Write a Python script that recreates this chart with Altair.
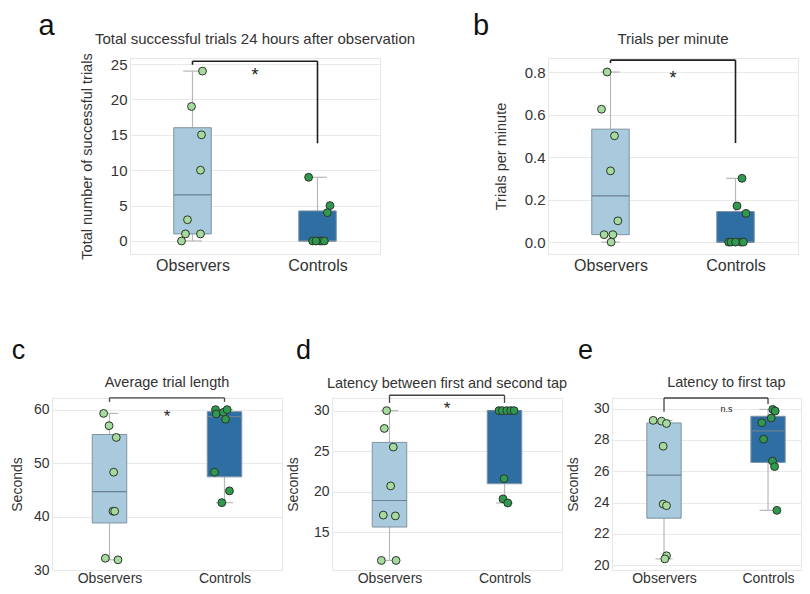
import altair as alt
import pandas as pd
import numpy as np

# ---- data ----
a_obs = [24, 19, 15, 10, 3, 1, 1, 0]
a_obs_jit = [0.08, -0.008, 0.072, 0.064, -0.04, -0.056, 0.064, -0.088]
a_ctl = [9, 5, 4, 0, 0, 0, 0, 0]
a_ctl_jit = [-0.071, 0.1, 0.079, -0.039, 0.02, 0.036, 0.055, -0.012]

b_obs = [0.8, 0.625, 0.5, 0.335, 0.1, 0.035, 0.035, 0.0]
b_obs_jit = [-0.027, -0.072, 0.032, 0.0, 0.059, -0.051, 0.019, 0.005]
b_ctl = [0.3, 0.17, 0.135, 0, 0, 0, 0, 0]
b_ctl_jit = [0.052, 0.012, 0.084, -0.055, -0.036, 0.044, 0.063, 0.0]

c_obs = [59.3, 57, 54.8, 48.3, 41, 41, 32.2, 31.9]
c_obs_jit = [-0.051, -0.004, 0.059, 0.036, 0.03, 0.045, -0.036, 0.074]
c_ctl = [60, 59.2, 59.5, 60, 58.2, 48.3, 44.8, 42.6]
c_ctl_jit = [-0.078, -0.072, -0.009, 0.023, 0.009, -0.087, 0.043, -0.023]

d_obs = [30, 27.8, 25.5, 20.7, 17.1, 17, 11.5, 11.5]
d_obs_jit = [-0.025, -0.045, 0.033, 0.01, -0.054, 0.051, -0.071, 0.057]
d_ctl = [30, 30, 30, 30, 30, 21.6, 19.1, 18.6]
d_ctl_jit = [-0.048, -0.019, 0.019, 0.054, 0.083, -0.004, -0.013, 0.028]

e_obs = [29.25, 29.2, 29.05, 27.6, 23.9, 23.8, 20.6, 20.4]
e_obs_jit = [-0.104, -0.024, 0.024, -0.008, -0.008, 0.024, 0.024, 0.008]
e_ctl = [29.95, 29.85, 29.4, 29.1, 28.05, 26.65, 26.3, 23.5]
e_ctl_jit = [0.046, 0.069, 0.031, -0.06, -0.043, 0.043, 0.063, 0.085]

BOX_FILL = ["#a9c9dc", "#2f6ea3"]
PT_FILL = ["#a6da9e", "#2f9a4f"]
FONT = "Liberation Sans"


def panel(letter, title, ytitle, obs, oj, ctl, cj, ydom, yticks, yfmt,
          bracket, sig, sig_y, width, height, xmax, P):
    xs = alt.Scale(domain=[-0.5, xmax], nice=False, zero=False)
    ys = alt.Scale(domain=ydom, nice=False, zero=False)
    xaxis = alt.Axis(values=[0, 1], labelExpr="datum.value == 0 ? 'Observers' : 'Controls'",
                     grid=False, labelFontSize=P["xlab"], labelPadding=P["xpad"], title=None)
    yaxis = alt.Axis(values=yticks, format=yfmt, labelFontSize=P["ylab"], labelPadding=3,
                     titleFontSize=P["ytit"], titlePadding=P["tpad"], titleFontWeight="normal",
                     title=ytitle)

    def X(f):
        return alt.X(f, type="quantitative", scale=xs, axis=xaxis)

    def Y(f):
        return alt.Y(f, type="quantitative", scale=ys, axis=yaxis)

    hw = P["hw"]
    rows = []
    for g, vals in enumerate([obs, ctl]):
        v = np.array(vals, dtype=float)
        q1, med, q3 = np.percentile(v, [25, 50, 75])
        iqr = q3 - q1
        lo = v[v >= q1 - 1.5 * iqr].min()
        hi = v[v <= q3 + 1.5 * iqr].max()
        rows.append(dict(g=g, bl=g - hw, br=g + hw, cl=g - hw / 2, cr=g + hw / 2,
                         q1=q1, med=med, q3=q3, lo=lo, hi=hi, fill=BOX_FILL[g]))
    box_df = pd.DataFrame(rows)

    pts = []
    for g, (vals, jit) in enumerate([(obs, oj), (ctl, cj)]):
        for v, j in zip(vals, jit):
            pts.append(dict(x=g + j, v=v, fill=PT_FILL[g]))
    pts_df = pd.DataFrame(pts)

    base = alt.Chart(box_df)
    wcol = "#b8b8b8"
    w_lo = base.mark_rule(color=wcol, strokeWidth=1.2).encode(x=X("g"), y=Y("lo"), y2="q1")
    w_hi = base.mark_rule(color=wcol, strokeWidth=1.2).encode(x=X("g"), y=Y("q3"), y2="hi")
    c_lo = base.mark_rule(color=wcol, strokeWidth=1.2).encode(x=X("cl"), x2="cr", y=Y("lo"))
    c_hi = base.mark_rule(color=wcol, strokeWidth=1.2).encode(x=X("cl"), x2="cr", y=Y("hi"))
    box = base.mark_rect(stroke="#7f93a3", strokeWidth=1).encode(
        x=X("bl"), x2="br", y=Y("q1"), y2="q3", fill=alt.Fill("fill:N", scale=None))
    med = base.mark_rule(color="#6a8192", strokeWidth=1.2).encode(x=X("bl"), x2="br", y=Y("med"))
    points = alt.Chart(pts_df).mark_point(filled=True, size=62, stroke="#2a352a",
                                          strokeWidth=1, opacity=1).encode(
        x=X("x"), y=Y("v"), fill=alt.Fill("fill:N", scale=None))

    top, leg0, leg1 = bracket
    br_df = pd.DataFrame(dict(x=[0, 0, 1], x2=[1, 0, 1], y=[top, leg0, leg1], y2=[top, top, top]))
    br = alt.Chart(br_df).mark_rule(color=P["brc"], strokeWidth=P["brw"]).encode(
        x=X("x"), x2="x2", y=Y("y"), y2="y2")

    sig_df = pd.DataFrame(dict(x=[P["tx"]], y=[sig_y], t=[sig]))
    sigt = alt.Chart(sig_df).mark_text(font=FONT, fontSize=P["sigfs"], color="#222",
                                       baseline="middle").encode(x=X("x"), y=Y("y"), text="t:N")

    t_df = pd.DataFrame(dict(x=[P["tx"]], t=[title]))
    tt = alt.Chart(t_df).mark_text(font=FONT, fontSize=P["tfs"], color="#333",
                                   baseline="middle").encode(
        x=X("x"), y=alt.value(P["tdy"]), text="t:N")

    l_df = pd.DataFrame(dict(t=[letter]))
    lt = alt.Chart(l_df).mark_text(font=FONT, fontSize=P["lfs"], color="#111",
                                   baseline="alphabetic").encode(
        x=alt.value(P["ldx"]), y=alt.value(P["ldy"]), text="t:N")

    return alt.layer(w_lo, w_hi, c_lo, c_hi, box, med, br, points, sigt, tt, lt).properties(
        width=width, height=height)


def spacer(w, h):
    return alt.Chart(pd.DataFrame(dict(v=[0]))).mark_point(opacity=0).encode(
        x=alt.X("v:Q", axis=None), y=alt.Y("v:Q", axis=None)).properties(
        width=w, height=h, view=alt.ViewBackground(strokeOpacity=0))


TOP = dict(xlab=16, xpad=3, ylab=15, ytit=14.5, tpad=16, hw=0.15, brc="#1e1e1e", brw=1.6,
           sigfs=18, tfs=15, tdy=-19, lfs=29, ldy=-23, tx=0.5)
BOT = dict(xlab=14, xpad=1, ylab=14, ytit=14, tpad=13, hw=0.15, brc="#444444", brw=1.3,
           sigfs=17, tfs=14.5, tdy=-15, lfs=27, ldy=-39, tx=0.5)

pa = panel("a", "Total successful trials 24 hours after observation",
           "Total number of successful trials", a_obs, a_obs_jit, a_ctl, a_ctl_jit,
           [-1.84, 25.85], [0, 5, 10, 15, 20, 25], "d",
           (25.4, 24.9, 13.8), "*", 23.3, 250, 196, 1.5, dict(TOP, ldx=-83.5))
pb = panel("b", "Trials per minute", "Trials per minute", b_obs, b_obs_jit, b_ctl, b_ctl_jit,
           [-0.056, 0.866], [0, 0.2, 0.4, 0.6, 0.8], ".1f",
           (0.856, 0.842, 0.466), "*", 0.767, 250, 196, 1.5, dict(TOP, ldx=-67))
pc = panel("c", "Average trial length", "Seconds", c_obs, c_obs_jit, c_ctl, c_ctl_jit,
           [30.0, 62.18], [30, 40, 50, 60], "d",
           (62.2, 61.45, 61.45), "*", 58.7, 230, 172, 1.5, dict(BOT, ldx=-33.5, tpad=9))
pd_ = panel("d", "Latency between first and second tap", "Seconds", d_obs, d_obs_jit, d_ctl,
            d_ctl_jit, [10.32, 31.56], [15, 20, 25, 30], "d",
            (31.9, 30.96, 30.96), "*", 30.24, 230, 172, 1.5, dict(BOT, ldx=-28.5, tdy=-14))
pe = panel("e", "Latency to first tap", "Seconds", e_obs, e_obs_jit, e_ctl, e_ctl_jit,
           [19.69, 30.68], [20, 22, 24, 26, 28, 30], "d",
           (30.68, 29.8, 30.3), "n.s", 29.96, 189, 172, 1.317,
           dict(BOT, ldx=-26.5, hw=0.165, sigfs=9, tx=0.6))

top_row = alt.HConcatChart(hconcat=[spacer(28, 196), pa, spacer(68, 196), pb],
                           spacing=50, bounds="flush")
bottom_row = alt.HConcatChart(hconcat=[pc, pd_, pe], spacing=50, bounds="flush")

chart = alt.VConcatChart(
    vconcat=[top_row, bottom_row], spacing=340, bounds="flush",
    autosize=alt.AutoSizeParams(type="none"),
    padding={"left": 44, "top": 50, "right": 750, "bottom": 528},
).configure_view(stroke="#e6e6e6", strokeWidth=1).configure_axis(
    gridColor="#e9e9e9", domain=False, ticks=False, labelFont=FONT, titleFont=FONT,
    labelColor="#333333", titleColor="#333333")

chart.save("out.html", embed_options={"renderer": "svg", "actions": False})
